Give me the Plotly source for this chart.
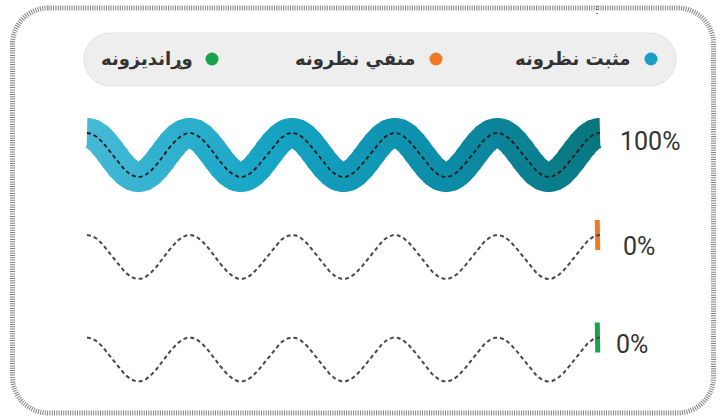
import numpy as np
import plotly.graph_objects as go

# ---------------- data ----------------
series_names = ["مثبت نظرونه", "منفي نظرونه", "وړاندیزونه"]
series_values = [100, 0, 0]          # percent
series_colors = ["#1a9cc4", "#ee7a22", "#1ba24c"]

# ---------------- layout constants ----------------
W, H = 722, 418
X0, X1 = 87, 600           # wave extent (pixels)
PERIODS = 5
AMP = 22
ROW_CENTERS = [155, 257, 359.5]
BAND = 30
MIN_NUB = 5
LABEL_X = [618, 621, 614]
LABEL_Y = [141, 246, 344]
LEGEND_DOT_X = [651, 436, 212]
LEGEND_TEXT_RIGHT = [633, 417, 195]
LEGEND_Y = 59

grad_stops = [(0.0, (70, 186, 215)), (0.35, (22, 165, 197)),
              (0.7, (12, 140, 168)), (1.0, (9, 118, 126))]


def grad_color(t):
    for (t0, c0), (t1, c1) in zip(grad_stops[:-1], grad_stops[1:]):
        if t <= t1:
            u = (t - t0) / (t1 - t0) if t1 > t0 else 0
            c = [round(a + (b - a) * u) for a, b in zip(c0, c1)]
            return "rgb(%d,%d,%d)" % tuple(c)
    return "rgb(%d,%d,%d)" % grad_stops[-1][1]


def wave(cy):
    x = np.linspace(X0, X1, 1400)
    y = cy - AMP * np.cos(2 * np.pi * PERIODS * (x - X0) / (X1 - X0))
    s = np.concatenate([[0], np.cumsum(np.hypot(np.diff(x), np.diff(y)))])
    return x, y, s


def rounded_rect_path(x0, y0, x1, y1, r):
    k = 0.5523 * r
    return (f"M{x0+r},{y0} L{x1-r},{y0} C{x1-r+k},{y0} {x1},{y0+r-k} {x1},{y0+r} "
            f"L{x1},{y1-r} C{x1},{y1-r+k} {x1-r+k},{y1} {x1-r},{y1} "
            f"L{x0+r},{y1} C{x0+r-k},{y1} {x0},{y1-r+k} {x0},{y1-r} "
            f"L{x0},{y0+r} C{x0},{y0+r-k} {x0+r-k},{y0} {x0+r},{y0} Z")


fig = go.Figure()

for i, (name, val, col) in enumerate(zip(series_names, series_values, series_colors)):
    x, y, s = wave(ROW_CENTERS[i])
    L = s[-1]
    fill_len = val / 100 * L
    if fill_len > 20:
        idx = np.where(s >= L - fill_len)[0]
        nseg = 90
        bounds = np.linspace(idx[0], idx[-1], nseg + 1).astype(int)
        for a, b in zip(bounds[:-1], bounds[1:]):
            a2 = max(idx[0], a - 3)
            b2 = min(idx[-1], b + 3)
            t = ((x[a] + x[b]) / 2 - X0) / (X1 - X0)
            c = grad_color(t) if i == 0 else col
            fig.add_trace(go.Scatter(x=x[a2:b2 + 1], y=y[a2:b2 + 1], mode="lines",
                                     line=dict(color=c, width=BAND, simplify=False),
                                     hoverinfo="skip", showlegend=False))
    else:
        # short straight nub at the (right-hand) start of the track
        n = max(fill_len, MIN_NUB)
        tx, ty = x[-1] - x[-2], y[-1] - y[-2]
        norm = np.hypot(tx, ty)
        nx = [x[-1] - n * tx / norm, x[-1]]
        ny = [y[-1] - n * ty / norm, y[-1]]
        fig.add_trace(go.Scatter(x=nx, y=ny, mode="lines",
                                 line=dict(color=col, width=BAND),
                                 hoverinfo="skip", showlegend=False))
    # dashed guide
    fig.add_trace(go.Scatter(x=x, y=y, mode="lines",
                             line=dict(color="#1a1a1a" if i == 0 else "#474747",
                                       width=1.8 if i == 0 else 2, dash="4px,3px"),
                             hoverinfo="skip", showlegend=False))
    fig.add_annotation(x=LABEL_X[i], y=LABEL_Y[i], text=f"{val}%", showarrow=False,
                       xanchor="left", yanchor="middle",
                       font=dict(family="Roboto", size=25, color="#333333"))

# legend dots + text
fig.add_trace(go.Scatter(x=LEGEND_DOT_X, y=[LEGEND_Y] * 3, mode="markers",
                         marker=dict(size=13, color=series_colors, line=dict(width=0)),
                         hoverinfo="skip", showlegend=False))
for name, xr in zip(series_names, LEGEND_TEXT_RIGHT):
    fig.add_annotation(x=xr, y=LEGEND_Y, text=f"<b>{name}</b>", showarrow=False,
                       xanchor="right", yanchor="middle",
                       font=dict(family="DejaVu Sans", size=18, color="#333333"))

shapes = [
    dict(type="path", path=rounded_rect_path(84, 33, 676, 86, 26.5),
         fillcolor="#eeeeee", line=dict(color="#e0e0e0", width=1), layer="below"),
    dict(type="path", path=rounded_rect_path(12.5, 8, 713.5, 413, 36),
         line=dict(color="#808080", width=5, dash="1px,1.3px"), layer="above"),
]

fig.add_annotation(x=597, y=9, text="⋮", showarrow=False, xanchor="center",
                   yanchor="middle", font=dict(size=10, color="#222222"))

fig.update_layout(
    width=W, height=H, autosize=False,
    margin=dict(l=0, r=0, t=0, b=0),
    paper_bgcolor="white", plot_bgcolor="white",
    xaxis=dict(range=[0, W], visible=False, fixedrange=True),
    yaxis=dict(range=[H, 0], visible=False, fixedrange=True),
    shapes=shapes, showlegend=False,
)

fig.write_html("out.html", config={"displayModeBar": False, "staticPlot": True},
               post_script="document.body.style.margin='0';")
